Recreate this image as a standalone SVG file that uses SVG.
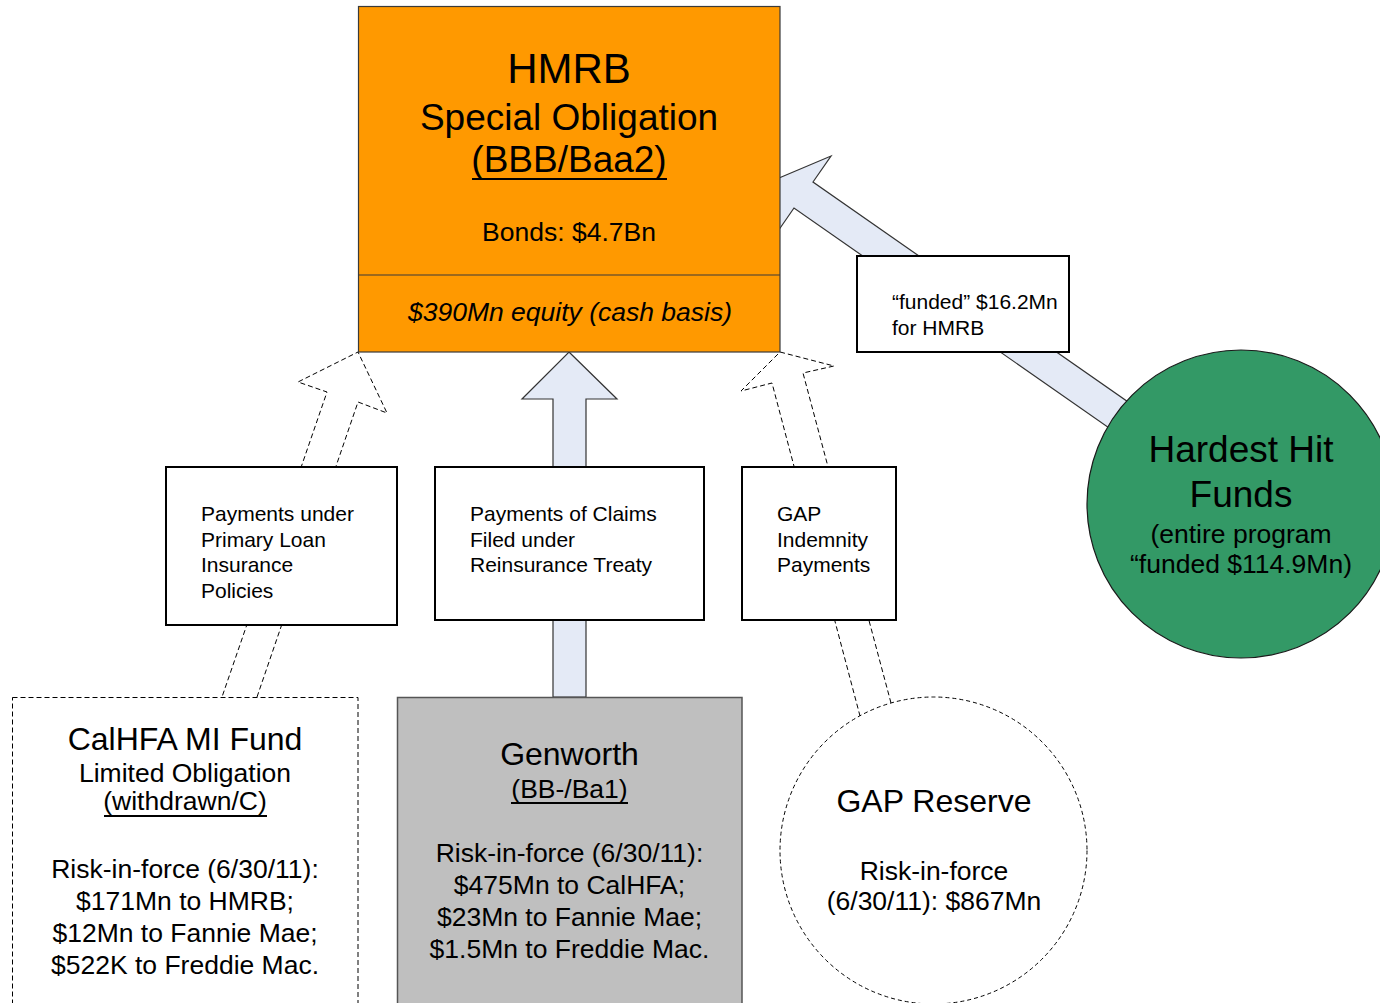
<svg xmlns="http://www.w3.org/2000/svg" width="1380" height="1003" viewBox="0 0 1380 1003">
<style>
text{font-family:"Liberation Sans",Arial,sans-serif;fill:#000}
.c{text-anchor:middle}
.ul{stroke:#000;stroke-width:1.8}
.box{fill:#fff;stroke:#000;stroke-width:2}
.solidarrow{fill:#E4EAF6;stroke:#333;stroke-width:1.2;stroke-linejoin:miter}
.dasharrow{fill:none;stroke:#000;stroke-width:1;stroke-dasharray:5,3}
.s21{font-size:21px}
.s26{font-size:26.5px}
.s32{font-size:32px}
.s37{font-size:37px}
</style>
<rect width="1380" height="1003" fill="#fff"/>
<g id="connectors">
<path class="dasharrow" d="M257,697 L358,402 L387,413 L358,352 L298,382 L327,392 L222,697"/>
<polygon class="solidarrow" points="569,352 617,399 586,399 586,697 553,697 553,399 522,399"/>
<path class="dasharrow" d="M891,703 L803,373 L834,366 L780,352 L741,391 L772,383 L860,716"/>
<polygon class="solidarrow" points="779,178 831,156 813,182 1141,411 1122,437 794,208 776,234"/>
</g>
<g id="hmrb">
<rect x="358.5" y="6.5" width="421.5" height="345.5" fill="#FF9900" stroke="#3a3a3a" stroke-width="1.2"/>
<line x1="358.5" y1="275" x2="780" y2="275" stroke="#3a3a3a" stroke-width="1.2"/>
<text class="c" x="569" y="83" style="font-size:42px">HMRB</text>
<text class="c s37" x="569" y="130">Special Obligation</text>
<text class="c s37" x="569" y="172">(BBB/Baa2)</text>
<line class="ul" x1="472" y1="179" x2="667" y2="179"/>
<text class="c s26" x="569" y="241">Bonds: $4.7Bn</text>
<text class="c s26" x="570" y="321" font-style="italic">$390Mn equity (cash basis)</text>
</g>
<g id="funded">
<rect class="box" x="857" y="256" width="212" height="96"/>
<text class="s21" x="892" y="309">“funded” $16.2Mn</text>
<text class="s21" x="892" y="335">for HMRB</text>
</g>
<g id="hardest-hit">
<circle cx="1241" cy="504" r="154" fill="#339966" stroke="#1a1a1a" stroke-width="1.2"/>
<text class="c s37" x="1241" y="462">Hardest Hit</text>
<text class="c s37" x="1241" y="507">Funds</text>
<text class="c s26" x="1241" y="543">(entire program</text>
<text class="c s26" x="1241" y="573">“funded $114.9Mn)</text>
</g>
<g id="primary-payments">
<rect class="box" x="166" y="467" width="231" height="158"/>
<text class="s21" x="201" y="521">Payments under</text>
<text class="s21" x="201" y="547">Primary Loan</text>
<text class="s21" x="201" y="572">Insurance</text>
<text class="s21" x="201" y="598">Policies</text>
</g>
<g id="claims-payments">
<rect class="box" x="435" y="467" width="269" height="153"/>
<text class="s21" x="470" y="521">Payments of Claims</text>
<text class="s21" x="470" y="547">Filed under</text>
<text class="s21" x="470" y="572">Reinsurance Treaty</text>
</g>
<g id="gap-payments">
<rect class="box" x="742" y="467" width="154" height="153"/>
<text class="s21" x="777" y="521">GAP</text>
<text class="s21" x="777" y="547">Indemnity</text>
<text class="s21" x="777" y="572">Payments</text>
</g>
<g id="calhfa">
<rect x="12.5" y="697.5" width="345.5" height="320" fill="#fff" stroke="#000" stroke-width="1" stroke-dasharray="5,3"/>
<text class="c s32" x="185" y="750">CalHFA MI Fund</text>
<text class="c s26" x="185" y="782">Limited Obligation</text>
<text class="c s26" x="185" y="810">(withdrawn/C)</text>
<line class="ul" x1="104" y1="816" x2="267" y2="816"/>
<text class="c s26" x="185" y="878">Risk-in-force (6/30/11):</text>
<text class="c s26" x="185" y="910">$171Mn to HMRB;</text>
<text class="c s26" x="185" y="942">$12Mn to Fannie Mae;</text>
<text class="c s26" x="185" y="974">$522K to Freddie Mac.</text>
</g>
<g id="genworth">
<rect x="397.5" y="697.5" width="344.5" height="320" fill="#BFBFBF" stroke="#555" stroke-width="1.5"/>
<text class="c s32" x="569.5" y="765">Genworth</text>
<text class="c s26" x="569.5" y="798">(BB-/Ba1)</text>
<line class="ul" x1="511" y1="803" x2="628" y2="803"/>
<text class="c s26" x="569.5" y="862">Risk-in-force (6/30/11):</text>
<text class="c s26" x="569.5" y="894">$475Mn to CalHFA;</text>
<text class="c s26" x="569.5" y="926">$23Mn to Fannie Mae;</text>
<text class="c s26" x="569.5" y="958">$1.5Mn to Freddie Mac.</text>
</g>
<g id="gap-reserve">
<circle cx="933.5" cy="850.5" r="153.5" fill="#fff" stroke="#000" stroke-width="1" stroke-dasharray="4,3"/>
<text class="c s32" x="934" y="812">GAP Reserve</text>
<text class="c s26" x="934" y="880">Risk-in-force</text>
<text class="c s26" x="934" y="910">(6/30/11): $867Mn</text>
</g>
</svg>
